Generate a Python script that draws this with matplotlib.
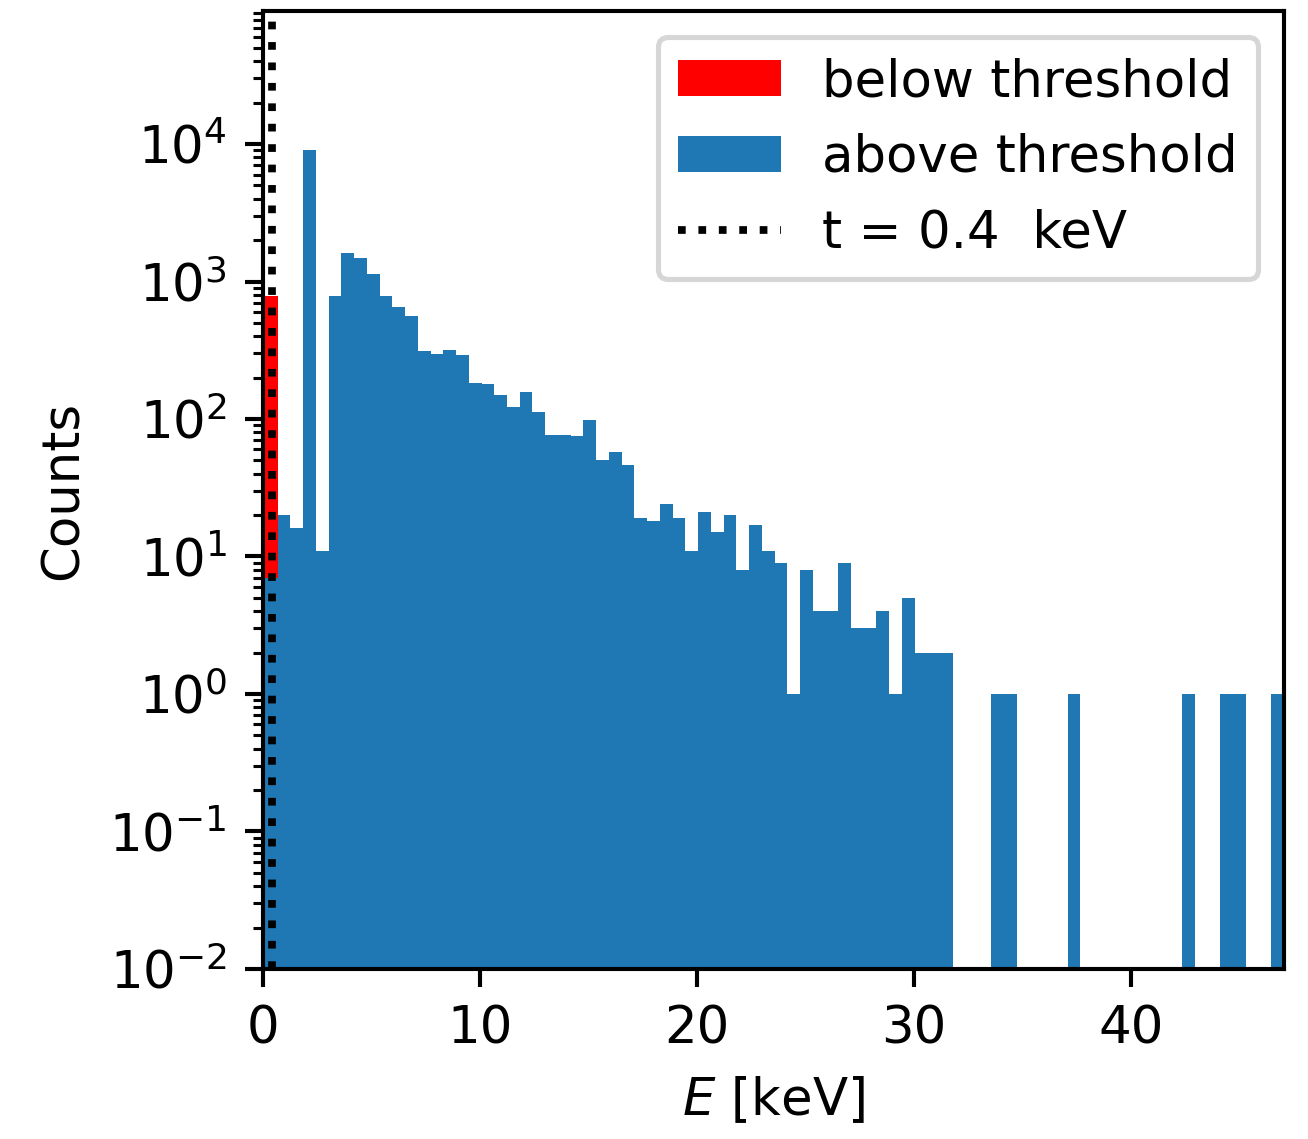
import numpy as np
import matplotlib
matplotlib.use("Agg")
import matplotlib.pyplot as plt

# histogram bin edges in keV (80 equal bins)
e_min, e_max, n_bins = 0.09, 47.05, 80
edges = np.linspace(e_min, e_max, n_bins + 1)

# counts per bin
counts_below = np.zeros(n_bins)
counts_below[0] = 780

counts_above = np.array([
    7, 20, 16, 9100, 11, 780, 1600, 1480, 1140, 780,
    650, 560, 310, 296, 320, 292, 184, 179, 149, 123,
    157, 112, 76, 76, 75, 99, 50, 58, 46, 19,
    18, 24, 19, 11, 21, 15, 20, 8, 17, 11,
    9, 1, 8, 4, 4, 9, 3, 3, 4, 1,
    5, 2, 2, 2, 0, 0, 0, 1, 1, 0,
    0, 0, 0, 1, 0, 0, 0, 0, 0, 0,
    0, 0, 1, 0, 0, 1, 1, 0, 0, 1,
])

threshold = 0.4

dpi = 370
fig = plt.figure(figsize=(1308 / dpi, 1139 / dpi), dpi=dpi)
ax = fig.add_axes([0.2011, 0.1493, 0.7806, 0.8410])

ax.hist(edges[:-1], bins=edges, weights=counts_below, color='red',
        label='below threshold')
ax.hist(edges[:-1], bins=edges, weights=counts_above, color='tab:blue',
        label='above threshold')
ax.axvline(threshold, color='k', ls=':', label=f't = {threshold}  keV')

ax.set_yscale('log')
ax.set_ylim(1e-2, 9.27e4)
ax.set_xlim(0, e_max)
ax.set_xlabel('$E$ [keV]')
ax.set_ylabel('Counts')
ax.legend(loc='upper right')

fig.savefig('out.png', dpi=dpi)
